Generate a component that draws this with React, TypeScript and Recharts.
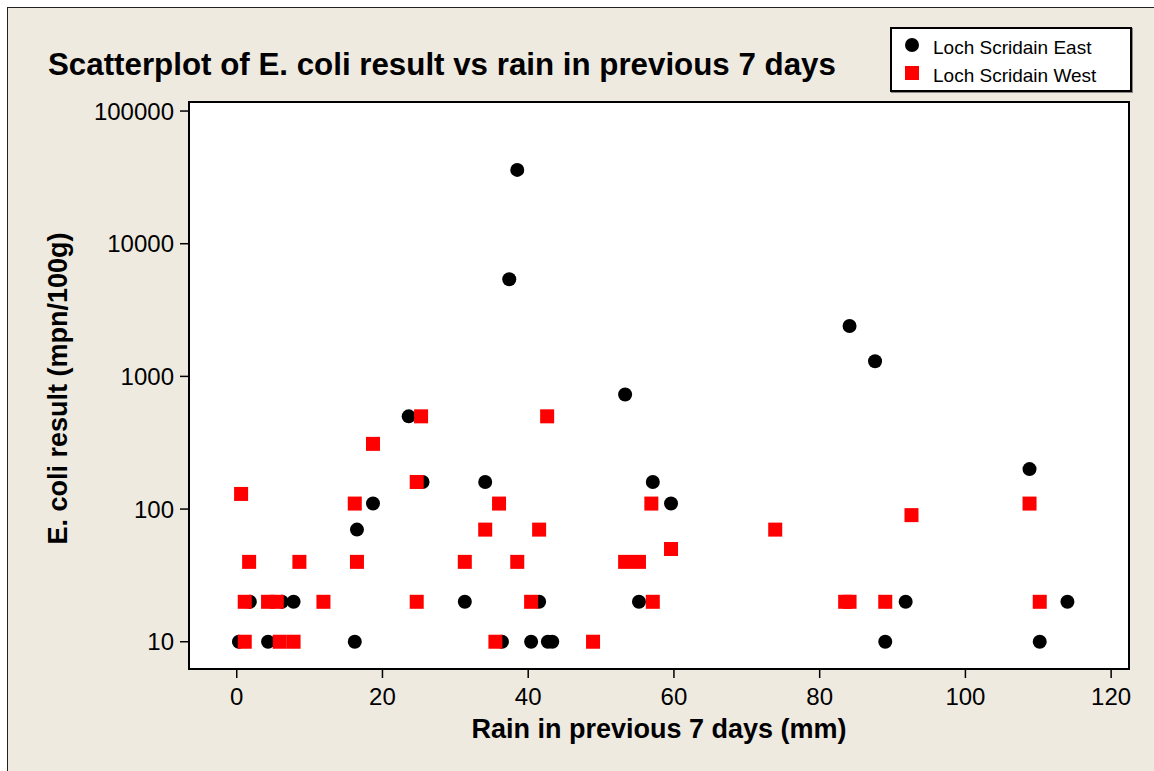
import React from "react";
import { ScatterChart, Scatter, XAxis, YAxis, ReferenceArea, Legend, Label } from "recharts";

// Loch Scridain East (black circles)
const rainEast = [0.3, 1.8, 4.3, 6.2, 7.8, 16.2, 16.5, 18.7, 23.6, 25.5, 31.3, 34.1, 36.4, 37.4, 38.5, 40.4, 41.5, 42.7, 43.3, 53.3, 55.2, 57.1, 59.6, 84.1, 87.6, 89.0, 91.8, 108.8, 110.2, 114.0];
const ecoliEast = [10, 20, 10, 20, 20, 10, 70, 110, 500, 160, 20, 160, 10, 5400, 36000, 10, 20, 10, 10, 730, 20, 160, 110, 2400, 1300, 10, 20, 200, 10, 20];

// Loch Scridain West (red squares)
const rainWest = [0.6, 1.1, 1.1, 1.7, 4.3, 5.5, 5.9, 7.8, 8.6, 11.9, 16.2, 16.5, 18.7, 24.7, 24.7, 25.3, 31.3, 34.1, 35.5, 36.0, 38.5, 40.4, 41.5, 42.6, 48.9, 53.3, 55.2, 56.9, 57.1, 59.6, 73.9, 83.5, 84.1, 89.0, 92.6, 108.8, 110.2];
const ecoliWest = [130, 20, 10, 40, 20, 20, 10, 10, 40, 20, 110, 40, 310, 160, 20, 500, 40, 70, 10, 110, 40, 20, 70, 500, 10, 40, 40, 110, 20, 50, 70, 20, 20, 20, 90, 110, 20];

const xTicks = [0, 20, 40, 60, 80, 100, 120];
const yTicks = [10, 100, 1000, 10000, 100000];
const xDomain: [number, number] = [-6.55, 122.45];
const yDomain: [number, number] = [6.23, 117000];

const east = rainEast.map((rain, i) => ({ rain, ecoli: ecoliEast[i] }));
const west = rainWest.map((rain, i) => ({ rain, ecoli: ecoliWest[i] }));

const FONT = "'Liberation Sans', Arial, sans-serif";
const BG = "#eeeae0";

const Dot = (p: any) => <circle cx={p.cx} cy={p.cy} r={7} fill="#000" />;
const Sq = (p: any) => <rect x={p.cx - 7} y={p.cy - 7} width={14} height={14} fill="#ff0000" />;

function LegendBox() {
  return (
    <div
      style={{
        width: 242,
        height: 65,
        boxSizing: "border-box",
        border: "2px solid #000",
        boxShadow: "1px 1px 0 #888",
        background: "#fff",
      }}
    >
      <svg width={238} height={61} style={{ display: "block" }}>
        <circle cx={20} cy={16} r={7} fill="#000" />
        <text x={41} y={24.5} fontSize={19} fontFamily={FONT} fill="#000">
          Loch Scridain East
        </text>
        <rect x={13} y={37} width={14} height={14} fill="#ff0000" />
        <text x={41} y={53} fontSize={19} fontFamily={FONT} fill="#000">
          Loch Scridain West
        </text>
      </svg>
    </div>
  );
}

export default function App() {
  return (
    <div style={{ position: "relative", width: 1154, height: 771, background: "#fff", overflow: "hidden" }}>
      <style>{`body{margin:0}`}</style>
      <div
        style={{
          position: "absolute",
          left: 7,
          top: 7,
          width: 1160,
          height: 780,
          background: BG,
          borderLeft: "1.5px solid #222",
          borderTop: "1.5px solid #222",
        }}
      />
      <div style={{ position: "absolute", left: 0, top: 0 }}>
        <ScatterChart width={1154} height={771} margin={{ top: 102, right: 25, bottom: 0, left: 0 }}>
          <ReferenceArea
            x1={xDomain[0]}
            x2={xDomain[1]}
            y1={yDomain[0]}
            y2={yDomain[1]}
            fill="#fff"
            fillOpacity={1}
            stroke="#000"
            strokeWidth={2}
          />
          <XAxis
            type="number"
            dataKey="rain"
            domain={xDomain}
            ticks={xTicks}
            allowDataOverflow
            height={102}
            axisLine={false}
            tickSize={9}
            tickMargin={10}
            tickLine={{ stroke: "#000", strokeWidth: 1.5 }}
            tick={{ fill: "#000", fontSize: 24, fontFamily: FONT }}
          >
            <Label
              content={(props: any) => {
                const vb = props.viewBox || { x: 189, y: 669, width: 940, height: 102 };
                return (
                  <text
                    x={vb.x + vb.width / 2}
                    y={vb.y + 68.5}
                    textAnchor="middle"
                    fontSize={27}
                    fontWeight="bold"
                    fontFamily={FONT}
                    fill="#000"
                  >
                    Rain in previous 7 days (mm)
                  </text>
                );
              }}
            />
          </XAxis>
          <YAxis
            type="number"
            dataKey="ecoli"
            scale="log"
            domain={yDomain}
            ticks={yTicks}
            allowDataOverflow
            width={189}
            axisLine={false}
            tickSize={9}
            tickMargin={6}
            tickLine={{ stroke: "#000", strokeWidth: 1.5 }}
            tick={{ fill: "#000", fontSize: 24, fontFamily: FONT }}
          >
            <Label
              content={(props: any) => {
                const vb = props.viewBox || { x: 0, y: 102, width: 189, height: 567 };
                const cx = 67;
                const cy = vb.y + vb.height / 2 + 3;
                return (
                  <text
                    x={cx}
                    y={cy}
                    transform={`rotate(-90, ${cx}, ${cy})`}
                    textAnchor="middle"
                    fontSize={27}
                    fontWeight="bold"
                    fontFamily={FONT}
                    fill="#000"
                  >
                    E. coli result (mpn/100g)
                  </text>
                );
              }}
            />
          </YAxis>
          <Legend
            layout="vertical"
            align="center"
            verticalAlign="middle"
            wrapperStyle={{ left: 890, top: 27, width: 242, height: 65 }}
            content={() => <LegendBox />}
          />
          <Scatter name="Loch Scridain East" data={east} shape={Dot} isAnimationActive={false} />
          <Scatter name="Loch Scridain West" data={west} shape={Sq} isAnimationActive={false} />
        </ScatterChart>
      </div>
      <svg width={1154} height={100} style={{ position: "absolute", left: 0, top: 0, pointerEvents: "none" }}>
        <text x={48} y={74.5} fontSize={31.3} fontWeight="bold" fontFamily={FONT} fill="#000">
          Scatterplot of E. coli result vs rain in previous 7 days
        </text>
      </svg>
    </div>
  );
}
